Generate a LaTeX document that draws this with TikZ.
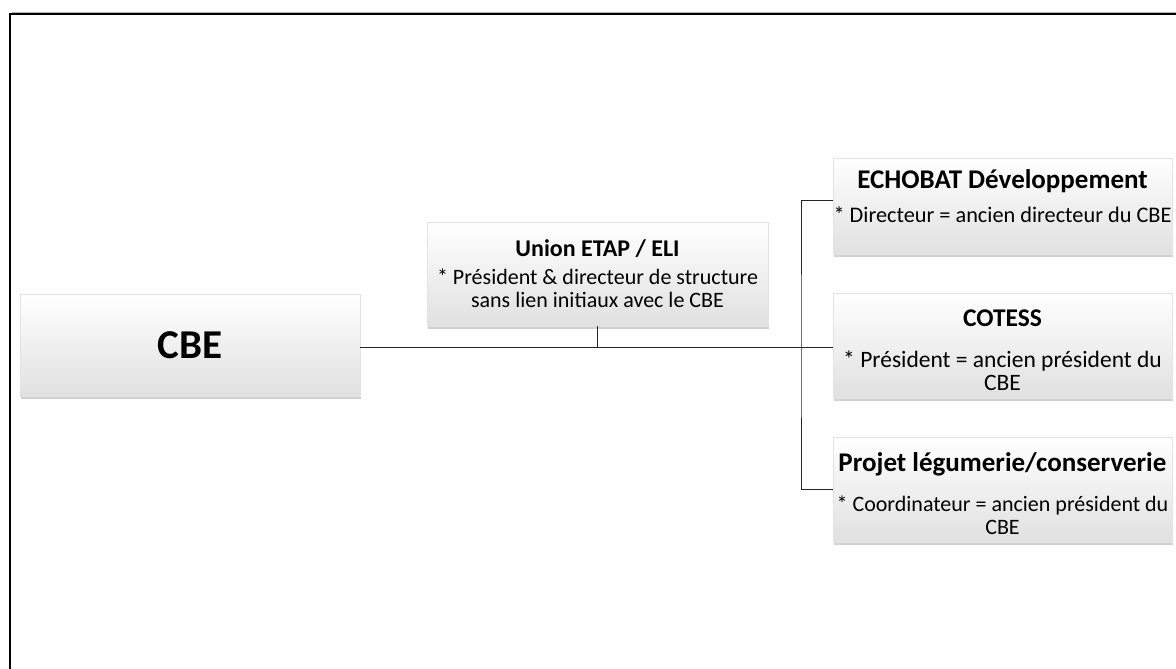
\documentclass[tikz,border=0pt]{standalone}
\usepackage{fontspec}
\setmainfont{Carlito}
\usepackage{tikz}
\usetikzlibrary{calc,positioning,shadows}

\tikzset{
  orgbox/.style={draw=gray!22, line width=0.6pt, top color=white, bottom color=gray!24,
    drop shadow={shadow xshift=1pt, shadow yshift=-2.5pt, opacity=0.45, fill=gray!80},
    align=center, inner sep=0pt},
  orgline/.style={black!85, line width=1pt},
}
% title line of a box: size, then text
\newcommand{\boxtitle}[2]{{\fontsize{#1}{23}\selectfont\bfseries #2}}

\begin{document}
\begin{tikzpicture}[x=1pt,y=-1pt]
  \clip (0,0) rectangle (1176,669);
  \fill[white] (0,0) rectangle (1176,669);
  % outer frame, cut by the page on the right and at the bottom
  \draw[black, line width=2.6pt] (10,680) -- (10,14) -- (1190,14);
  \draw[gray!60, line width=0.8pt] (11.5,12.3) -- (1190,12.3);

  \node[orgbox, minimum width=340, minimum height=102] (cbe) at (190,345)
    {\fontsize{41}{46}\selectfont\bfseries CBE};
  \node[orgbox, minimum width=341, minimum height=104, font=\fontsize{22}{23}\selectfont] (union) at (597.5,274)
    {\boxtitle{24}{Union ETAP / ELI}\\[5pt]
     * Président \& directeur de structure\\ sans lien initiaux avec le CBE};

  \node[orgbox, minimum width=339, minimum height=96, font=\fontsize{22.3}{23}\selectfont] (echobat) at (1002.5,206)
    {\boxtitle{27}{ECHOBAT Développement}\\[11pt]
     * Directeur = ancien directeur du CBE\rule[-19pt]{0pt}{19pt}};
  \node[orgbox, minimum width=339, minimum height=105, font=\fontsize{23.5}{23}\selectfont] (cotess) at (1002.5,345.5)
    {\boxtitle{25.5}{\rule{0pt}{26pt}COTESS}\\[18pt]
     * Président = ancien président du\\ CBE};
  \node[orgbox, minimum width=339, minimum height=105, font=\fontsize{22}{23}\selectfont] (projet) at (1002.5,489.5)
    {\boxtitle{27}{\rule{0pt}{28pt}Projet légumerie/conserverie}\\[17pt]
     * Coordinateur = ancien président du\\ CBE};

  % connectors
  \coordinate (bus) at (801,347);
  \draw[orgline] (cbe.east |- bus) -- (cotess.west |- bus);
  \draw[orgline] (union.south) -- (union.south |- bus);
  \draw[orgline] ([yshift=6pt]echobat.west) -| (bus) |- (projet.west);
\end{tikzpicture}
\end{document}
